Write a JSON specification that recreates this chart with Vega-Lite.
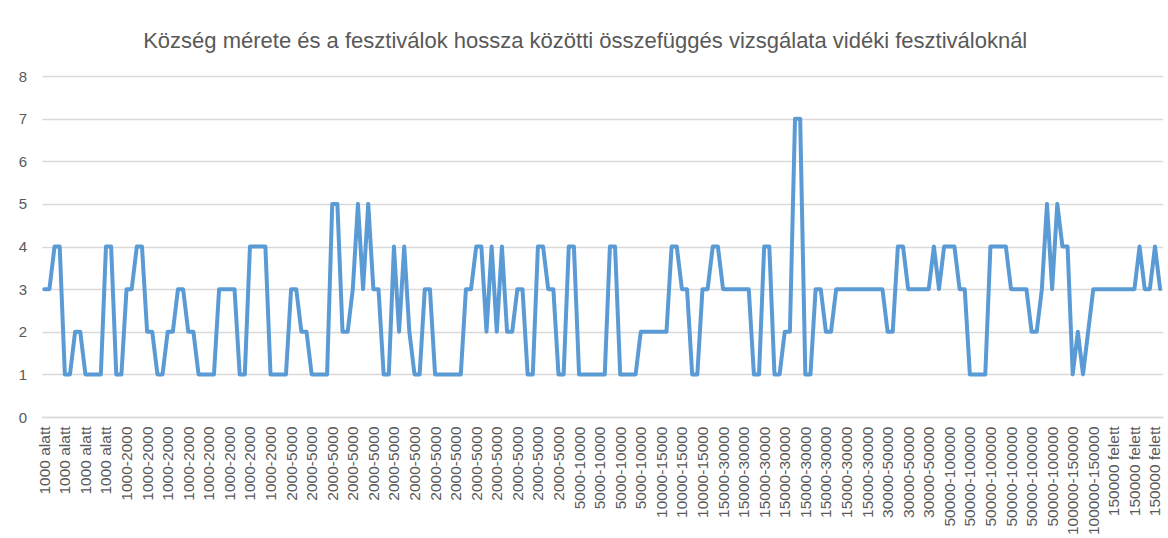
{
  "$schema": "https://vega.github.io/schema/vega-lite/v6.json",
  "autosize": {"type": "none"},
  "width": 1121,
  "height": 341,
  "padding": {"left": 41.7, "top": 76, "right": 5.3, "bottom": 121},
  "background": "white",
  "title": {
    "text": "Község mérete és a fesztiválok hossza közötti összefüggés vizsgálata vidéki fesztiváloknál",
    "fontSize": 22,
    "font": "Liberation Sans",
    "fontWeight": "normal",
    "color": "#595959",
    "anchor": "middle",
    "offset": 16,
    "dx": -17
  },
  "config": {"view": {"stroke": null}},
  "data": {"values": [
    {"x":"1000 alatt #0","v":3},{"x":"1000 alatt #1","v":3},{"x":"1000 alatt #2","v":4},{"x":"1000 alatt #3","v":4},
    {"x":"1000 alatt #4","v":1},{"x":"1000 alatt #5","v":1},{"x":"1000 alatt #6","v":2},{"x":"1000 alatt #7","v":2},
    {"x":"1000 alatt #8","v":1},{"x":"1000 alatt #9","v":1},{"x":"1000 alatt #10","v":1},{"x":"1000 alatt #11","v":1},
    {"x":"1000 alatt #12","v":4},{"x":"1000 alatt #13","v":4},{"x":"1000 alatt #14","v":1},{"x":"1000 alatt #15","v":1},
    {"x":"1000-2000 #16","v":3},{"x":"1000-2000 #17","v":3},{"x":"1000-2000 #18","v":4},{"x":"1000-2000 #19","v":4},
    {"x":"1000-2000 #20","v":2},{"x":"1000-2000 #21","v":2},{"x":"1000-2000 #22","v":1},{"x":"1000-2000 #23","v":1},
    {"x":"1000-2000 #24","v":2},{"x":"1000-2000 #25","v":2},{"x":"1000-2000 #26","v":3},{"x":"1000-2000 #27","v":3},
    {"x":"1000-2000 #28","v":2},{"x":"1000-2000 #29","v":2},{"x":"1000-2000 #30","v":1},{"x":"1000-2000 #31","v":1},
    {"x":"1000-2000 #32","v":1},{"x":"1000-2000 #33","v":1},{"x":"1000-2000 #34","v":3},{"x":"1000-2000 #35","v":3},
    {"x":"1000-2000 #36","v":3},{"x":"1000-2000 #37","v":3},{"x":"1000-2000 #38","v":1},{"x":"1000-2000 #39","v":1},
    {"x":"1000-2000 #40","v":4},{"x":"1000-2000 #41","v":4},{"x":"1000-2000 #42","v":4},{"x":"1000-2000 #43","v":4},
    {"x":"1000-2000 #44","v":1},{"x":"1000-2000 #45","v":1},{"x":"1000-2000 #46","v":1},{"x":"1000-2000 #47","v":1},
    {"x":"2000-5000 #48","v":3},{"x":"2000-5000 #49","v":3},{"x":"2000-5000 #50","v":2},{"x":"2000-5000 #51","v":2},
    {"x":"2000-5000 #52","v":1},{"x":"2000-5000 #53","v":1},{"x":"2000-5000 #54","v":1},{"x":"2000-5000 #55","v":1},
    {"x":"2000-5000 #56","v":5},{"x":"2000-5000 #57","v":5},{"x":"2000-5000 #58","v":2},{"x":"2000-5000 #59","v":2},
    {"x":"2000-5000 #60","v":3},{"x":"2000-5000 #61","v":5},{"x":"2000-5000 #62","v":3},{"x":"2000-5000 #63","v":5},
    {"x":"2000-5000 #64","v":3},{"x":"2000-5000 #65","v":3},{"x":"2000-5000 #66","v":1},{"x":"2000-5000 #67","v":1},
    {"x":"2000-5000 #68","v":4},{"x":"2000-5000 #69","v":2},{"x":"2000-5000 #70","v":4},{"x":"2000-5000 #71","v":2},
    {"x":"2000-5000 #72","v":1},{"x":"2000-5000 #73","v":1},{"x":"2000-5000 #74","v":3},{"x":"2000-5000 #75","v":3},
    {"x":"2000-5000 #76","v":1},{"x":"2000-5000 #77","v":1},{"x":"2000-5000 #78","v":1},{"x":"2000-5000 #79","v":1},
    {"x":"2000-5000 #80","v":1},{"x":"2000-5000 #81","v":1},{"x":"2000-5000 #82","v":3},{"x":"2000-5000 #83","v":3},
    {"x":"2000-5000 #84","v":4},{"x":"2000-5000 #85","v":4},{"x":"2000-5000 #86","v":2},{"x":"2000-5000 #87","v":4},
    {"x":"2000-5000 #88","v":2},{"x":"2000-5000 #89","v":4},{"x":"2000-5000 #90","v":2},{"x":"2000-5000 #91","v":2},
    {"x":"2000-5000 #92","v":3},{"x":"2000-5000 #93","v":3},{"x":"2000-5000 #94","v":1},{"x":"2000-5000 #95","v":1},
    {"x":"2000-5000 #96","v":4},{"x":"2000-5000 #97","v":4},{"x":"2000-5000 #98","v":3},{"x":"2000-5000 #99","v":3},
    {"x":"2000-5000 #100","v":1},{"x":"2000-5000 #101","v":1},{"x":"2000-5000 #102","v":4},{"x":"2000-5000 #103","v":4},
    {"x":"5000-10000 #104","v":1},{"x":"5000-10000 #105","v":1},{"x":"5000-10000 #106","v":1},{"x":"5000-10000 #107","v":1},
    {"x":"5000-10000 #108","v":1},{"x":"5000-10000 #109","v":1},{"x":"5000-10000 #110","v":4},{"x":"5000-10000 #111","v":4},
    {"x":"5000-10000 #112","v":1},{"x":"5000-10000 #113","v":1},{"x":"5000-10000 #114","v":1},{"x":"5000-10000 #115","v":1},
    {"x":"5000-10000 #116","v":2},{"x":"5000-10000 #117","v":2},{"x":"5000-10000 #118","v":2},{"x":"5000-10000 #119","v":2},
    {"x":"10000-15000 #120","v":2},{"x":"10000-15000 #121","v":2},{"x":"10000-15000 #122","v":4},{"x":"10000-15000 #123","v":4},
    {"x":"10000-15000 #124","v":3},{"x":"10000-15000 #125","v":3},{"x":"10000-15000 #126","v":1},{"x":"10000-15000 #127","v":1},
    {"x":"10000-15000 #128","v":3},{"x":"10000-15000 #129","v":3},{"x":"10000-15000 #130","v":4},{"x":"10000-15000 #131","v":4},
    {"x":"15000-30000 #132","v":3},{"x":"15000-30000 #133","v":3},{"x":"15000-30000 #134","v":3},{"x":"15000-30000 #135","v":3},
    {"x":"15000-30000 #136","v":3},{"x":"15000-30000 #137","v":3},{"x":"15000-30000 #138","v":1},{"x":"15000-30000 #139","v":1},
    {"x":"15000-30000 #140","v":4},{"x":"15000-30000 #141","v":4},{"x":"15000-30000 #142","v":1},{"x":"15000-30000 #143","v":1},
    {"x":"15000-30000 #144","v":2},{"x":"15000-30000 #145","v":2},{"x":"15000-30000 #146","v":7},{"x":"15000-30000 #147","v":7},
    {"x":"15000-30000 #148","v":1},{"x":"15000-30000 #149","v":1},{"x":"15000-30000 #150","v":3},{"x":"15000-30000 #151","v":3},
    {"x":"15000-30000 #152","v":2},{"x":"15000-30000 #153","v":2},{"x":"15000-30000 #154","v":3},{"x":"15000-30000 #155","v":3},
    {"x":"15000-30000 #156","v":3},{"x":"15000-30000 #157","v":3},{"x":"15000-30000 #158","v":3},{"x":"15000-30000 #159","v":3},
    {"x":"15000-30000 #160","v":3},{"x":"15000-30000 #161","v":3},{"x":"15000-30000 #162","v":3},{"x":"15000-30000 #163","v":3},
    {"x":"30000-50000 #164","v":2},{"x":"30000-50000 #165","v":2},{"x":"30000-50000 #166","v":4},{"x":"30000-50000 #167","v":4},
    {"x":"30000-50000 #168","v":3},{"x":"30000-50000 #169","v":3},{"x":"30000-50000 #170","v":3},{"x":"30000-50000 #171","v":3},
    {"x":"30000-50000 #172","v":3},{"x":"30000-50000 #173","v":4},{"x":"30000-50000 #174","v":3},{"x":"30000-50000 #175","v":4},
    {"x":"50000-100000 #176","v":4},{"x":"50000-100000 #177","v":4},{"x":"50000-100000 #178","v":3},{"x":"50000-100000 #179","v":3},
    {"x":"50000-100000 #180","v":1},{"x":"50000-100000 #181","v":1},{"x":"50000-100000 #182","v":1},{"x":"50000-100000 #183","v":1},
    {"x":"50000-100000 #184","v":4},{"x":"50000-100000 #185","v":4},{"x":"50000-100000 #186","v":4},{"x":"50000-100000 #187","v":4},
    {"x":"50000-100000 #188","v":3},{"x":"50000-100000 #189","v":3},{"x":"50000-100000 #190","v":3},{"x":"50000-100000 #191","v":3},
    {"x":"50000-100000 #192","v":2},{"x":"50000-100000 #193","v":2},{"x":"50000-100000 #194","v":3},{"x":"50000-100000 #195","v":5},
    {"x":"50000-100000 #196","v":3},{"x":"50000-100000 #197","v":5},{"x":"50000-100000 #198","v":4},{"x":"50000-100000 #199","v":4},
    {"x":"100000-150000 #200","v":1},{"x":"100000-150000 #201","v":2},{"x":"100000-150000 #202","v":1},{"x":"100000-150000 #203","v":2},
    {"x":"100000-150000 #204","v":3},{"x":"100000-150000 #205","v":3},{"x":"100000-150000 #206","v":3},{"x":"100000-150000 #207","v":3},
    {"x":"150000 felett #208","v":3},{"x":"150000 felett #209","v":3},{"x":"150000 felett #210","v":3},{"x":"150000 felett #211","v":3},
    {"x":"150000 felett #212","v":3},{"x":"150000 felett #213","v":4},{"x":"150000 felett #214","v":3},{"x":"150000 felett #215","v":3},
    {"x":"150000 felett #216","v":4},{"x":"150000 felett #217","v":3}
  ]},
  "mark": {"type": "line", "color": "#5B9BD5", "strokeWidth": 4, "strokeJoin": "round", "strokeCap": "round"},
  "encoding": {
    "x": {
      "field": "x", "type": "ordinal", "sort": null,
      "scale": {"type": "point", "padding": 0.5},
      "axis": {
        "title": null,
        "labelExpr": "toNumber(split(datum.value, '#')[1]) % 4 == 0 ? trim(split(datum.value, '#')[0]) : ''",
        "labelAngle": -90, "labelAlign": "right", "labelBaseline": "middle",
        "labelPadding": 9, "labelFontSize": 15.5, "labelFont": "Liberation Sans", "labelColor": "#595959",
        "labelOverlap": false, "labelBound": false, "labelFlush": false,
        "ticks": false, "domainColor": "#d9d9d9", "domainWidth": 1.3, "grid": false
      }
    },
    "y": {
      "field": "v", "type": "quantitative",
      "scale": {"domain": [0, 8], "nice": false},
      "axis": {
        "title": null, "values": [0,1,2,3,4,5,6,7,8],
        "labelFontSize": 15, "labelFont": "Liberation Sans", "labelColor": "#595959",
        "labelPadding": 15, "ticks": false, "domain": false,
        "grid": true, "gridColor": "#d9d9d9", "gridWidth": 1.3
      }
    }
  }
}
